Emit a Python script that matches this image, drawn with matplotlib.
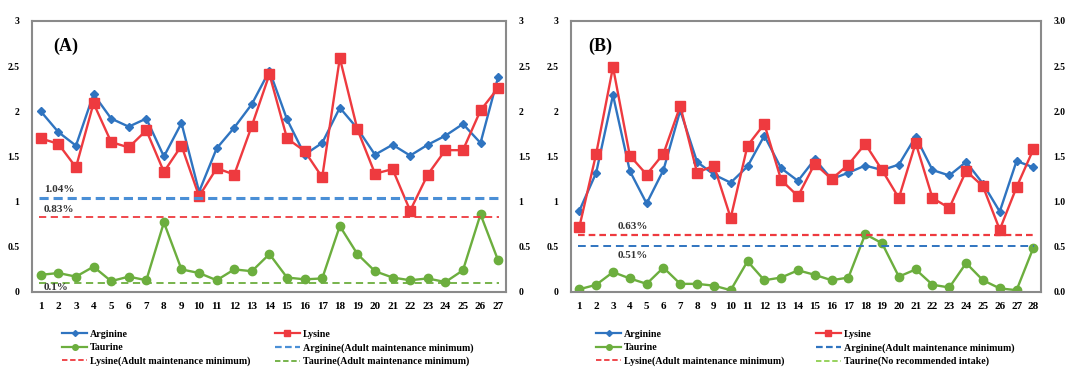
import matplotlib.pyplot as plt
from matplotlib.lines import Line2D
import numpy as np

plt.rcParams['font.family'] = ['Liberation Serif', 'DejaVu Serif']
plt.rcParams['font.weight'] = 'bold'

# Panel A data (27 samples)
samples_a = np.arange(1, 28)
arginine_a = [2.00, 1.77, 1.62, 2.19, 1.92, 1.83, 1.92, 1.50, 1.87, 1.11,
              1.59, 1.82, 2.08, 2.45, 1.91, 1.52, 1.65, 2.04, 1.81, 1.52,
              1.63, 1.51, 1.63, 1.73, 1.86, 1.65, 2.38]
lysine_a = [1.70, 1.64, 1.38, 2.09, 1.66, 1.60, 1.79, 1.33, 1.62, 1.06,
            1.37, 1.30, 1.84, 2.41, 1.70, 1.56, 1.27, 2.59, 1.80, 1.31,
            1.36, 0.90, 1.30, 1.57, 1.57, 2.01, 2.26]
taurine_a = [0.19, 0.21, 0.17, 0.28, 0.12, 0.17, 0.13, 0.77, 0.25, 0.21,
             0.13, 0.25, 0.23, 0.42, 0.16, 0.14, 0.15, 0.73, 0.42, 0.23,
             0.16, 0.13, 0.15, 0.11, 0.24, 0.86, 0.35]
ref_a = {'arg': 1.04, 'lys': 0.83, 'tau': 0.1}

# Panel B data (28 samples)
samples_b = np.arange(1, 29)
arginine_b = [0.90, 1.32, 2.18, 1.34, 0.98, 1.35, 2.01, 1.44, 1.30, 1.21,
              1.39, 1.73, 1.37, 1.23, 1.47, 1.25, 1.32, 1.40, 1.35, 1.41,
              1.72, 1.35, 1.29, 1.44, 1.20, 0.89, 1.45, 1.38]
lysine_b = [0.72, 1.53, 2.49, 1.51, 1.30, 1.53, 2.06, 1.32, 1.40, 0.82,
            1.62, 1.86, 1.24, 1.06, 1.42, 1.25, 1.41, 1.64, 1.35, 1.04,
            1.65, 1.04, 0.93, 1.34, 1.17, 0.69, 1.16, 1.58]
taurine_b = [0.03, 0.08, 0.22, 0.15, 0.09, 0.27, 0.09, 0.09, 0.07, 0.02,
             0.34, 0.13, 0.16, 0.24, 0.19, 0.13, 0.16, 0.64, 0.54, 0.17,
             0.25, 0.08, 0.05, 0.32, 0.13, 0.04, 0.02, 0.49]
ref_b = {'arg': 0.51, 'lys': 0.63}

yticks = [0, 0.5, 1, 1.5, 2, 2.5, 3]

BLUE = '#2f74c0'
RED = '#ee3a3f'
GREEN = '#6cae3e'
LBLUE = '#4a8fd6'
LGREEN = '#8fcf50'
SPINE = '#8a8a8a'

fig = plt.figure(figsize=(10.66, 3.69), dpi=100)
ax_a = fig.add_axes([0.030, 0.2087, 0.4447, 0.7344])
ax_b = fig.add_axes([0.5356, 0.2087, 0.4409, 0.7344])


def draw_panel(ax, x, arg, lys, tau, right_fmt):
    ax.plot(x, arg, color=BLUE, lw=1.7, marker='D', ms=4, label='Arginine')
    ax.plot(x, lys, color=RED, lw=1.7, marker='s', ms=7, label='Lysine')
    ax.plot(x, tau, color=GREEN, lw=1.7, marker='o', ms=6, label='Taurine')
    ax.set_xlim(0.5, len(x) + 0.45)
    ax.set_ylim(0, 3)
    ax.set_xticks(x)
    ax.set_xticklabels([str(i) for i in x], fontsize=8, fontweight='bold')
    ax.set_yticks(yticks)
    ax.set_yticklabels(['%g' % t for t in yticks], fontsize=7, fontweight='bold')
    ax.tick_params(axis='x', length=0, pad=7)
    ax.tick_params(axis='y', length=0, pad=9)
    for s in ax.spines.values():
        s.set_color(SPINE)
        s.set_linewidth(1.5)
    tw = ax.twinx()
    tw.set_ylim(0, 3)
    tw.set_yticks(yticks)
    tw.set_yticklabels([right_fmt % t for t in yticks], fontsize=7, fontweight='bold')
    tw.tick_params(axis='y', length=0, pad=9)
    for s in tw.spines.values():
        s.set_visible(False)


# Panel A
draw_panel(ax_a, samples_a, arginine_a, lysine_a, taurine_a, '%g')
ax_a.axhline(ref_a['arg'], xmin=0.015, xmax=0.985, color=LBLUE, lw=2.2, dashes=(3, 1.6))
ax_a.axhline(ref_a['lys'], xmin=0.015, xmax=0.985, color=RED, lw=1.3, dashes=(4, 2.5))
ax_a.axhline(ref_a['tau'], xmin=0.015, xmax=0.985, color=GREEN, lw=1.3, dashes=(4, 2.5))
ax_a.text(1.19, 1.13, '1.04%', fontsize=8, fontweight='bold', va='center', color='#333333')
ax_a.text(1.19, 0.915, '0.83%', fontsize=8, fontweight='bold', va='center', color='#333333')
ax_a.text(1.19, 0.05, '0.1%', fontsize=8, fontweight='bold', va='center', color='#333333')
ax_a.text(0.044, 0.905, '(A)', transform=ax_a.transAxes, fontsize=13,
          fontweight='bold', va='center')

h = [Line2D([], [], color=BLUE, lw=1.6, marker='D', ms=3),
     Line2D([], [], color=GREEN, lw=1.6, marker='o', ms=4),
     Line2D([], [], color=RED, lw=1.3, dashes=(3, 1.5)),
     Line2D([], [], color=RED, lw=1.6, marker='s', ms=4),
     Line2D([], [], color=LBLUE, lw=1.6, dashes=(3, 1.5)),
     Line2D([], [], color=GREEN, lw=1.3, dashes=(3, 1.5))]
labels_a = ['Arginine', 'Taurine', 'Lysine(Adult maintenance minimum)',
            'Lysine', 'Arginine(Adult maintenance minimum)',
            'Taurine(Adult maintenance minimum)']
ax_a.legend(h, labels_a, ncol=2, loc='upper left', bbox_to_anchor=(0.055, -0.125),
            frameon=False, fontsize=7.2, handlelength=2.5, handletextpad=0.3,
            columnspacing=2.4, labelspacing=0.42, borderaxespad=0)

# Panel B
draw_panel(ax_b, samples_b, arginine_b, lysine_b, taurine_b, '%.1f')
ax_b.axhline(ref_b['lys'], xmin=0.015, xmax=0.985, color=RED, lw=1.6, dashes=(3, 1.8))
ax_b.axhline(ref_b['arg'], xmin=0.015, xmax=0.985, color=BLUE, lw=1.4, dashes=(4, 2.5))
ax_b.text(3.3, 0.73, '0.63%', fontsize=8, fontweight='bold', va='center', color='#333333')
ax_b.text(3.3, 0.40, '0.51%', fontsize=8, fontweight='bold', va='center', color='#333333')
ax_b.text(0.036, 0.905, '(B)', transform=ax_b.transAxes, fontsize=13,
          fontweight='bold', va='center')

h_b = [Line2D([], [], color=BLUE, lw=1.6, marker='D', ms=3),
       Line2D([], [], color=GREEN, lw=1.6, marker='o', ms=4),
       Line2D([], [], color=RED, lw=1.3, dashes=(3, 1.5)),
       Line2D([], [], color=RED, lw=1.6, marker='s', ms=4),
       Line2D([], [], color=BLUE, lw=1.6, dashes=(3, 1.5)),
       Line2D([], [], color=LGREEN, lw=1.3, dashes=(3, 1.5))]
labels_b = ['Arginine', 'Taurine', 'Lysine(Adult maintenance minimum)',
            'Lysine', 'Arginine(Adult maintenance minimum)',
            'Taurine(No recommended intake)']
ax_b.legend(h_b, labels_b, ncol=2, loc='upper left', bbox_to_anchor=(0.045, -0.125),
            frameon=False, fontsize=7.2, handlelength=2.5, handletextpad=0.3,
            columnspacing=3.1, labelspacing=0.42, borderaxespad=0)

fig.savefig('out.png', dpi=100)
